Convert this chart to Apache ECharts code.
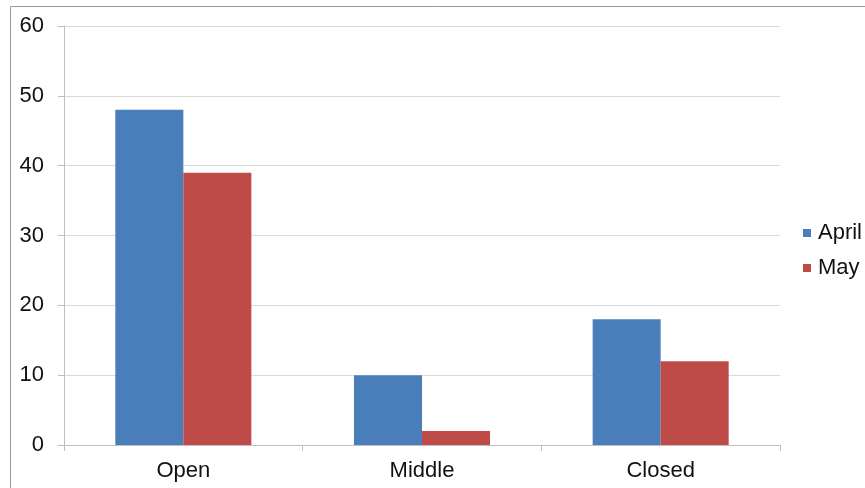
<!DOCTYPE html>
<html><head><meta charset="utf-8">
<script src="https://cdn.jsdelivr.net/npm/echarts@6/dist/echarts.min.js"></script>
<style>html,body{margin:0;padding:0;background:#fff}#c{width:865px;height:488px}</style>
</head><body><div id="c"></div>
<script>
var categories = ['Open', 'Middle', 'Closed'];
var april = [48, 10, 18];
var may = [39, 2, 12];
var yTicks = [0, 10, 20, 30, 40, 50, 60];

var chart = echarts.init(document.getElementById('c'), null, {renderer: 'canvas'});
var font = 'Liberation Sans, Arial, sans-serif';
chart.setOption({
  animation: false,
  backgroundColor: '#fff',
  graphic: [{type: 'rect', shape: {x: 10.5, y: 6.5, width: 900, height: 600}, style: {fill: 'none', stroke: '#9a9a9a', lineWidth: 1}, silent: true}],
  grid: {left: 64, right: 85, top: 26, bottom: 43},
  legend: {
    orient: 'vertical', left: 798, top: 217, itemWidth: 8, itemHeight: 8, itemGap: 13,
    icon: 'rect', textStyle: {fontFamily: font, fontSize: 22, color: '#111', padding: [0,0,0,2]},
    data: ['April', 'May']
  },
  xAxis: {
    type: 'category', data: categories,
    axisLine: {lineStyle: {color: '#bfbfbf'}},
    axisTick: {show: true, length: 6, lineStyle: {color: '#bfbfbf'}},
    axisLabel: {fontFamily: font, fontSize: 22, color: '#111', margin: 15}
  },
  yAxis: {
    type: 'value', min: yTicks[0], max: yTicks[yTicks.length-1], interval: 10,
    axisLine: {show: true, lineStyle: {color: '#bfbfbf'}},
    axisTick: {show: true, length: 6, lineStyle: {color: '#bfbfbf'}},
    splitLine: {lineStyle: {color: '#d9d9d9'}},
    axisLabel: {fontFamily: font, fontSize: 22, color: '#111', margin: 20}
  },
  series: [
    {name: 'April', type: 'bar', data: april, itemStyle: {color: '#4a7ebb'}, barGap: '0%', barCategoryGap: '43%'},
    {name: 'May', type: 'bar', data: may, itemStyle: {color: '#be4b48'}, barGap: '0%', barCategoryGap: '43%'}
  ]
});
</script></body></html>
